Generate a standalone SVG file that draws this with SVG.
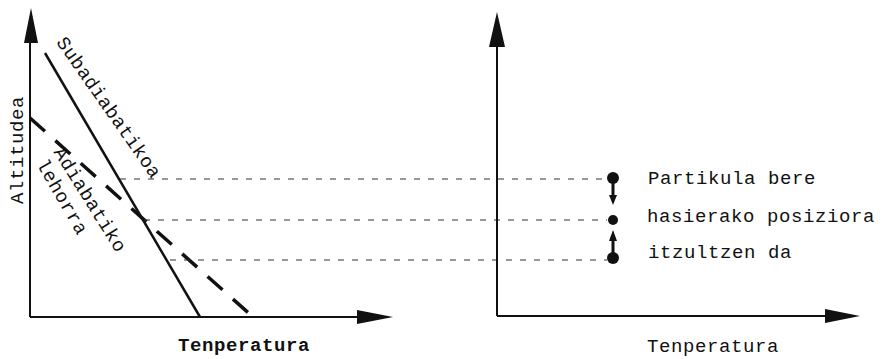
<svg xmlns="http://www.w3.org/2000/svg" width="890" height="359" viewBox="0 0 890 359">
<style>
.ax{stroke:#111;stroke-width:2;fill:none}
.ah{fill:#111}
.guide{stroke:#333;stroke-width:1.2;stroke-dasharray:6 8;fill:none}
.t{font-family:"Liberation Mono","DejaVu Sans Mono",monospace;font-size:19px;fill:#111;letter-spacing:0.6px}
.b{font-weight:bold}
.dot{fill:#111}
</style>
<rect width="890" height="359" fill="#fff"/>
<g id="left-chart">
  <line class="ax" x1="30" y1="40" x2="30" y2="317"/>
  <polygon class="ah" points="31,8 24,43 38,43"/>
  <line class="ax" x1="30" y1="317" x2="360" y2="317"/>
  <polygon class="ah" points="393,317 357,310 357,324"/>
  <text class="t b" x="178" y="351">Tenperatura</text>
  <text class="t" transform="translate(23,150) rotate(-90)" text-anchor="middle">Altitudea</text>
</g>
<g id="subadiabatic">
  <line x1="45" y1="53" x2="200" y2="317" stroke="#111" stroke-width="2.5"/>
  <text class="t" transform="translate(104,111) rotate(55)" text-anchor="middle">Subadiabatikoa</text>
</g>
<g id="dry-adiabatic">
  <line x1="30" y1="118" x2="253" y2="317" stroke="#111" stroke-width="3.5" stroke-dasharray="20 14"/>
  <text class="t" transform="translate(85,203) rotate(58)" text-anchor="middle">Adiabatiko</text>
  <text class="t" transform="translate(57,200) rotate(60)" text-anchor="middle">lehorra</text>
</g>
<g id="connectors">
  <line class="guide" x1="120" y1="179" x2="607" y2="179"/>
  <line class="guide" x1="144" y1="220" x2="607" y2="220"/>
  <line class="guide" x1="170" y1="260" x2="607" y2="260"/>
</g>
<g id="right-chart">
  <line class="ax" x1="497" y1="44" x2="497" y2="316"/>
  <polygon class="ah" points="497,12 489,47 505,47"/>
  <line class="ax" x1="497" y1="316" x2="828" y2="316"/>
  <polygon class="ah" points="860,316 825,309 825,323"/>
  <text class="t" x="647" y="352">Tenperatura</text>
</g>
<g id="particle">
  <circle class="dot" cx="613" cy="178" r="6"/>
  <circle class="dot" cx="613" cy="220" r="5"/>
  <circle class="dot" cx="613" cy="258" r="6"/>
  <line x1="613" y1="183" x2="613" y2="197" stroke="#111" stroke-width="3"/>
  <polygon class="ah" points="613,205 609,195 617,195"/>
  <line x1="613" y1="238" x2="613" y2="253" stroke="#111" stroke-width="3"/>
  <polygon class="ah" points="613,230 609,241 617,241"/>
  <text class="t" x="648" y="184">Partikula bere</text>
  <text class="t" x="647" y="222">hasierako posiziora</text>
  <text class="t" x="648" y="258">itzultzen da</text>
</g>
</svg>
